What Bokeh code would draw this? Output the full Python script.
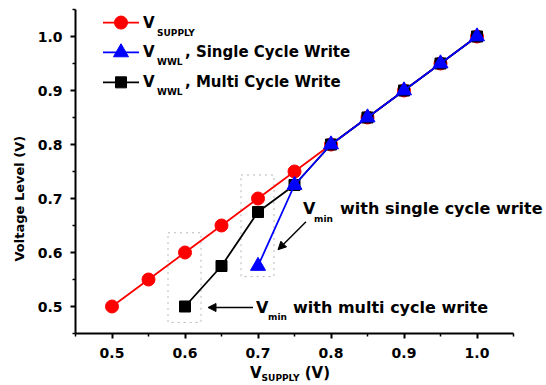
from bokeh.plotting import figure
from bokeh.models import Range1d, Label, Arrow, NormalHead, FixedTicker, NumeralTickFormatter, Div
from bokeh.layouts import column
from bokeh.embed import file_html
from bokeh.resources import INLINE

# ---- data ----
supply_x = [0.5, 0.55, 0.6, 0.65, 0.7, 0.75, 0.8, 0.85, 0.9, 0.95, 1.0]
supply_y = [0.5, 0.55, 0.6, 0.65, 0.7, 0.75, 0.8, 0.85, 0.9, 0.95, 1.0]
single_x = [0.7, 0.75, 0.8, 0.85, 0.9, 0.95, 1.0]
single_y = [0.575, 0.725, 0.8, 0.85, 0.9, 0.95, 1.0]
multi_x = [0.6, 0.65, 0.7, 0.75, 0.8, 0.85, 0.9, 0.95, 1.0]
multi_y = [0.5, 0.575, 0.675, 0.725, 0.8, 0.85, 0.9, 0.95, 1.0]
ticks = [0.5, 0.6, 0.7, 0.8, 0.9, 1.0]
minor_ticks = [0.45, 0.55, 0.65, 0.75, 0.85, 0.95, 1.05]

FONT = "DejaVu Sans"
NBSP = "\u00a0"

p = figure(width=546, height=365, output_backend="svg", toolbar_location=None,
           x_range=Range1d(0.45, 0.45 + 471 / 730.0), y_range=Range1d(0.45, 1.05),
           min_border_left=75, min_border_right=0, min_border_top=9, min_border_bottom=32)
p.outline_line_color = None
p.grid.visible = False
p.background_fill_color = "white"
p.border_fill_color = "white"

for ax in (p.xaxis[0], p.yaxis[0]):
    ax.ticker = FixedTicker(ticks=ticks, minor_ticks=minor_ticks)
    ax.formatter = NumeralTickFormatter(format="0.0")
    ax.bounds = (0.45, 1.05)
    ax.major_label_text_font = FONT
    ax.major_label_text_font_style = "bold"
    ax.major_label_text_font_size = "14px"
    ax.major_label_text_color = "black"
    ax.axis_line_width = 2
    ax.axis_line_color = "black"
    ax.major_tick_line_color = "black"
    ax.minor_tick_line_color = "black"
    ax.major_tick_line_width = 2
    ax.minor_tick_line_width = 1.5
    ax.major_tick_out = 5
    ax.major_tick_in = 0
    ax.minor_tick_out = 3
    ax.minor_tick_in = 0
    ax.major_label_standoff = 8
p.xaxis[0].major_label_standoff = 9

p.yaxis[0].axis_label = "Voltage Level (V)" + NBSP * 12
p.yaxis[0].axis_label_text_font = FONT
p.yaxis[0].axis_label_text_font_style = "bold"
p.yaxis[0].axis_label_text_font_size = "13px"
p.yaxis[0].axis_label_text_color = "black"
p.yaxis[0].axis_label_standoff = 8


def dx(px):
    return 0.5 + (px - 111) / 730.0


def dy(py):
    return 0.5 + (307 - py) / 542.0


# dotted selection boxes
p.quad(left=[dx(167), dx(240)], right=[dx(200), dx(273)],
       top=[dy(233), dy(175)], bottom=[dy(323), dy(277)],
       fill_color=None, line_color="#b8b8b8", line_dash="2 4", line_width=1)

# series
p.line(supply_x, supply_y, color="red", line_width=1.8)
p.scatter(supply_x, supply_y, marker="circle", size=13, color="red")
p.line(multi_x, multi_y, color="black", line_width=1.8)
p.scatter(multi_x, multi_y, marker="square", size=11, color="black")
p.line(single_x, single_y, color="blue", line_width=1.8)
p.scatter(single_x, single_y, marker="triangle", size=15, color="blue")


def txt(x_px, y_px, text, size):
    lab = Label(x=dx(x_px), y=dy(y_px), text=text)
    lab.text_font = FONT
    lab.text_font_style = "bold"
    lab.text_font_size = size
    lab.text_color = "black"
    lab.text_baseline = "middle"
    lab.text_align = "left"
    p.add_layout(lab)


# legend (manual, for subscripts)
rows = [(22, "red", "circle", 13, "SUPPLY", ""),
        (52, "blue", "triangle", 15, "WWL", ", Single Cycle Write"),
        (82, "black", "square", 11, "WWL", ", Multi Cycle Write")]
for py, col, mk, sz, sub, rest in rows:
    p.line([dx(102), dx(138)], [dy(py), dy(py)], color=col, line_width=1.8)
    p.scatter([dx(120)], [dy(py)], marker=mk, size=sz, color=col)
    txt(142, py, "V", "15px")
    txt(156, py + 10, sub, "9px")
    if rest:
        txt(184, py, rest, "15px")

# annotations
txt(302, 209, "V", "16px")
txt(313, 219, "min", "9px")
txt(339, 209, "with single cycle write", "16px")
txt(255, 308, "V", "16px")
txt(267, 318, "min", "9px")
txt(292, 308, "with multi cycle write", "16px")

p.add_layout(Arrow(end=NormalHead(size=8, fill_color="black", line_color="black"),
                   x_start=dx(305), y_start=dy(222), x_end=dx(277), y_end=dy(250),
                   line_width=1.5, line_color="black"))
p.add_layout(Arrow(end=NormalHead(size=8, fill_color="black", line_color="black"),
                   x_start=dx(252), y_start=dy(308), x_end=dx(207), y_end=dy(308),
                   line_width=1.5, line_color="black"))

# x axis label with subscript (HTML text below the plot)
xlabel = Div(
    text=('<div style="padding-left:250px; font-family:\'DejaVu Sans\'; font-weight:bold; '
          'font-size:15px; line-height:16px; color:black; white-space:nowrap;">'
          'V<sub style="font-size:9px; vertical-align:-3px;">SUPPLY</sub> (V)</div>'),
    width=546, height=20, margin=0)

layout = column(p, xlabel, spacing=0)
open("out.html", "w").write(file_html(layout, INLINE))
